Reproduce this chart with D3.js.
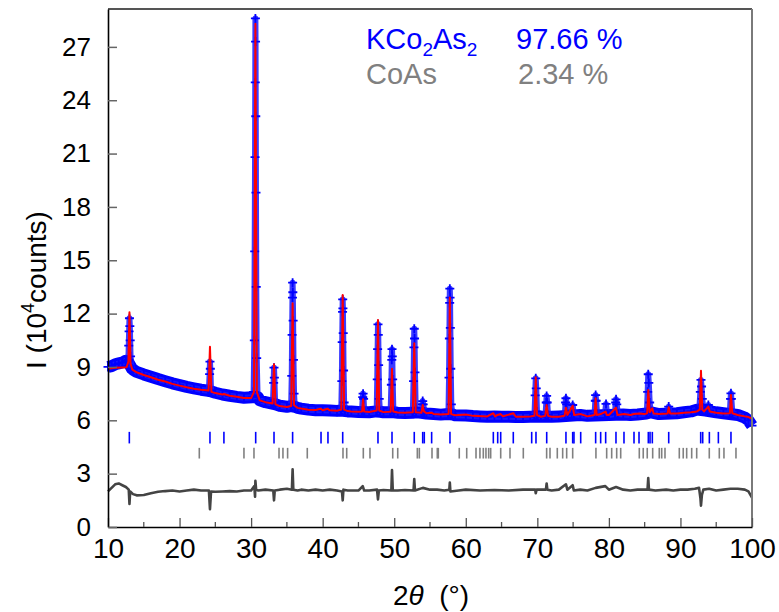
<!DOCTYPE html>
<html>
<head>
<meta charset="utf-8">
<script src="https://cdn.jsdelivr.net/npm/d3@7"></script>
<style>
  body { margin: 0; background: #fff; }
  text { font-family: "Liberation Sans", Arial, sans-serif; }
</style>
</head>
<body>
<div id="chart"></div>
<script>
// observed intensity (10^4 counts) vs 2theta, read off the picture
// background part of the observed pattern
const obsBase = [
  [10, 9.0], [10.5, 9.05], [11, 9.15], [11.5, 9.2], [12, 9.25], [12.5, 9.35], [12.8, 9.3],
  [13.35, 8.9], [13.5, 8.85], [14, 8.72], [15, 8.58], [16, 8.45], [17, 8.32], [18, 8.2], [19, 8.08], [20, 7.98],
  [21, 7.88], [22, 7.8], [23, 7.72], [24, 7.66], [24.45, 7.62],
  [25, 7.55], [26, 7.45], [27, 7.38], [28, 7.32], [29, 7.27], [30.2, 7.3], [30.95, 7.3],
  [31.2, 7.12], [32, 7.02], [32.8, 6.95], [33.4, 6.9],
  [34, 6.82], [35, 6.76], [35.55, 6.8], [36.15, 6.75],
  [36.5, 6.7], [37, 6.66], [38, 6.6], [39, 6.57], [40, 6.56], [41, 6.55], [42, 6.53], [42.55, 6.55],
  [43.15, 6.52], [43.5, 6.5], [44, 6.49], [45, 6.47],
  [46.5, 6.45], [47.5, 6.5], [48.05, 6.48],
  [48.5, 6.45], [49.45, 6.45], [49.95, 6.45],
  [50.5, 6.43], [51.5, 6.41], [52.55, 6.42], [53.05, 6.45],
  [53.8, 6.42], [54.5, 6.38], [55.5, 6.35], [56.5, 6.32], [57.55, 6.35], [58.15, 6.33],
  [58.5, 6.28], [60, 6.27], [61, 6.24], [62, 6.22], [63, 6.2], [64, 6.22], [65, 6.2], [66, 6.2],
  [67, 6.18], [68, 6.18], [69, 6.2], [70.5, 6.2], [72, 6.2], [73, 6.22],
  [76, 6.3], [77, 6.25], [80, 6.3], [82, 6.32], [83, 6.3], [84, 6.33], [85.25, 6.38], [85.9, 6.45],
  [87, 6.35], [89.5, 6.4], [90.5, 6.45], [91.5, 6.5], [92.3, 6.6], [93.5, 6.55],
  [95, 6.45], [96, 6.4], [98, 6.3], [99, 6.15], [99.5, 6.0], [100, 5.7]
];

// Bragg peaks of the observed pattern
const obsPeak = [
  [12.85, 9.4], [12.9, 10.2], [12.95, 11.0], [13.0, 11.74], [13.05, 11.3], [13.1, 10.5], [13.15, 9.6], [13.3, 8.9],
  [24.1, 7.7], [24.2, 8.6], [24.25, 9.3], [24.3, 8.9], [24.4, 7.7],
  [30.35, 7.6], [30.45, 10.5], [30.5, 15.5], [30.55, 20.8], [30.58, 25.0], [30.6, 28.6], [30.62, 27.3],
  [30.65, 23.1], [30.68, 18.8], [30.72, 13.5], [30.78, 9.5], [30.9, 7.4],
  [33.05, 7.0], [33.15, 8.1], [33.2, 8.96], [33.25, 8.4], [33.35, 7.0],
  [35.6, 6.9], [35.68, 8.5], [35.73, 10.8], [35.78, 12.9], [35.8, 13.74], [35.83, 13.2], [35.87, 11.6],
  [35.92, 9.4], [36.0, 7.5], [36.1, 6.8],
  [42.6, 6.6], [42.68, 8.2], [42.73, 10.4], [42.78, 12.1], [42.8, 12.8], [42.83, 12.3], [42.87, 10.9],
  [42.92, 8.8], [43.0, 7.0], [43.1, 6.55],
  [45.5, 6.5], [45.6, 7.3], [45.65, 7.5], [45.72, 7.2], [45.8, 6.5],
  [47.55, 6.55], [47.63, 8.3], [47.68, 10.0], [47.73, 11.4], [47.77, 10.8], [47.82, 9.1], [47.9, 7.2], [48.0, 6.5],
  [49.5, 6.5], [49.6, 8.0], [49.66, 9.4], [49.69, 10.0], [49.73, 9.6], [49.78, 8.3], [49.88, 6.6],
  [52.6, 6.45], [52.7, 8.2], [52.76, 10.1], [52.8, 11.15], [52.84, 10.6], [52.9, 8.7], [53.0, 6.7],
  [53.85, 6.45], [53.93, 6.9], [53.98, 7.08], [54.05, 6.9], [54.2, 6.5],
  [57.58, 6.4], [57.66, 8.4], [57.71, 10.6], [57.75, 12.6], [57.77, 13.4], [57.8, 12.9], [57.84, 11.2],
  [57.9, 8.9], [57.98, 6.9], [58.1, 6.35],
  [69.6, 6.3], [69.7, 7.4], [69.78, 8.36], [69.85, 7.8], [69.95, 6.5],
  [71.15, 6.3], [71.25, 7.0], [71.3, 7.37], [71.38, 7.0], [71.5, 6.3],
  [73.85, 6.3], [73.95, 7.0], [74.0, 7.24], [74.1, 6.9], [74.25, 6.35],
  [74.8, 6.35], [74.94, 6.86], [75.1, 6.35],
  [78.0, 6.35], [78.1, 7.1], [78.15, 7.42], [78.22, 7.1], [78.35, 6.35],
  [79.45, 6.35], [79.6, 6.92], [79.75, 6.35],
  [80.85, 6.35], [80.95, 7.0], [81.0, 7.18], [81.1, 6.9], [81.25, 6.35],
  [85.3, 6.4], [85.42, 7.6], [85.5, 8.59], [85.58, 8.1], [85.7, 7.0], [85.85, 6.5],
  [88.2, 6.4], [88.36, 6.77], [88.5, 6.4],
  [92.65, 6.7], [92.78, 7.6], [92.87, 8.27], [92.95, 7.9], [93.05, 7.2], [93.2, 6.7],
  [93.75, 6.55], [93.9, 6.86], [94.05, 6.55],
  [96.9, 6.4], [97.0, 7.2], [97.06, 7.52], [97.12, 7.2], [97.25, 6.4]
];

// calculated profile
const calcPts = [
  [10, 8.9], [11, 8.95], [12, 8.97], [12.6, 8.98], [12.85, 9.3], [13.0, 12.07], [13.15, 9.2], [13.4, 8.85],
  [14, 8.7], [15, 8.55], [16, 8.42], [17, 8.28], [18, 8.18], [19, 8.05], [20, 7.95], [21, 7.86],
  [22, 7.78], [23, 7.72], [24.05, 7.67], [24.25, 10.14], [24.45, 7.6], [25, 7.53], [26, 7.45],
  [26.2, 7.48], [27, 7.38], [28, 7.32], [29, 7.26], [30.0, 7.25], [30.4, 7.6], [30.6, 28.3],
  [30.8, 7.6], [31.2, 7.12], [32, 7.02], [33.0, 6.95], [33.2, 9.15], [33.4, 6.9], [34, 6.8],
  [35, 6.75], [35.6, 6.8], [35.8, 12.58], [36.0, 6.85], [36.5, 6.7], [37, 6.66], [38, 6.6],
  [39, 6.58], [39.75, 6.65], [40, 6.57], [40.7, 6.65], [41, 6.56], [42, 6.54], [42.6, 6.6],
  [42.8, 13.05], [43.0, 6.6], [43.5, 6.52], [44, 6.5], [45, 6.48], [45.5, 6.5], [45.65, 7.18],
  [45.8, 6.5], [46.5, 6.47], [47.55, 6.55], [47.73, 11.64], [47.9, 6.55], [48.5, 6.46],
  [49.5, 6.48], [49.69, 8.9], [49.85, 6.5], [50.5, 6.44], [51.5, 6.42], [52.6, 6.45],
  [52.8, 10.33], [53.0, 6.45], [53.8, 6.42], [53.98, 6.86], [54.15, 6.5], [54.5, 6.4],
  [55.2, 6.43], [55.5, 6.36], [56.5, 6.33], [57.6, 6.35], [57.77, 12.9], [57.95, 6.35],
  [58.5, 6.28], [60.1, 6.32], [61, 6.25], [63, 6.22], [63.85, 6.4], [64.1, 6.22], [64.46, 6.3],
  [64.88, 6.35], [65.2, 6.22], [66.64, 6.4], [67, 6.2], [68, 6.2], [69.0, 6.22], [69.6, 6.25],
  [69.78, 8.42], [69.95, 6.3], [70.5, 6.2], [71.1, 6.25], [71.3, 6.86], [71.5, 6.25], [72, 6.2],
  [73, 6.2], [73.8, 6.25], [74.0, 6.71], [74.2, 6.3], [74.94, 6.82], [75.15, 6.3], [76.06, 6.35],
  [77, 6.22], [78.0, 6.3], [78.15, 7.24], [78.3, 6.3], [78.85, 6.35], [79.55, 6.49], [79.7, 6.3],
  [80.0, 6.3], [80.99, 6.71], [81.2, 6.3], [82.11, 6.35], [83, 6.3], [83.51, 6.35], [84.21, 6.38],
  [85.0, 6.35], [85.35, 6.4], [85.51, 7.7], [85.7, 6.45], [86.07, 6.67], [86.25, 6.38], [87, 6.35],
  [88.2, 6.38], [88.36, 6.73], [88.55, 6.38], [89.5, 6.38], [90.5, 6.42], [91.5, 6.45], [92.3, 6.5],
  [92.7, 6.6], [92.87, 8.79], [93.05, 6.6], [93.3, 6.5], [93.9, 6.77], [94.1, 6.5], [95.0, 6.42],
  [96, 6.38], [96.9, 6.4], [97.06, 7.42], [97.25, 6.4], [98, 6.3], [99, 6.22], [99.5, 6.18], [100, 6.1]
];

// difference curve (obs - calc, offset)
const diffPts = [
  [10, 2.0], [10.5, 2.2], [11, 2.4], [11.5, 2.45], [12, 2.35], [12.5, 2.25], [12.9, 2.1], [13.0, 1.3],
  [13.1, 2.0], [13.5, 1.85], [14, 1.78], [15, 1.8], [16, 1.9], [17, 1.98], [18, 2.02], [19, 2.05],
  [20, 2.0], [21, 2.05], [22, 2.1], [23, 2.05], [24.1, 2.05], [24.25, 1.0], [24.4, 2.0], [25, 1.98],
  [26, 2.0], [27, 2.02], [28, 2.0], [29, 2.05], [30.0, 2.05], [30.45, 2.3], [30.55, 1.7], [30.6, 2.6],
  [30.7, 2.1], [31, 2.05], [32, 2.1], [33.1, 2.05], [33.2, 1.5], [33.3, 2.05], [34, 2.1], [35, 2.15],
  [35.7, 2.1], [35.8, 3.25], [35.9, 2.1], [36.5, 2.05], [37, 2.1], [38, 2.05], [39, 2.1], [40, 2.05],
  [41, 2.1], [42, 2.05], [42.7, 2.0], [42.8, 1.5], [42.9, 2.1], [43.5, 2.05], [44, 2.05], [45, 2.05],
  [45.6, 2.3], [45.8, 2.05], [46.5, 2.05], [47.6, 2.1], [47.73, 1.55], [47.85, 2.05], [48.5, 2.08],
  [49.6, 2.05], [49.69, 3.2], [49.8, 2.05], [50.5, 2.05], [51.5, 2.08], [52.7, 2.05], [52.8, 2.7],
  [52.9, 2.05], [54, 2.2], [55, 2.1], [56, 2.1], [57, 2.05], [57.7, 2.1], [57.77, 2.5], [57.85, 2.0],
  [59, 2.05], [60, 2.1], [62, 2.05], [64, 2.08], [66, 2.05], [68, 2.1], [69.7, 2.1], [69.78, 1.9],
  [69.9, 2.1], [71.2, 2.1], [71.3, 2.45], [71.4, 2.1], [72, 2.05], [73, 2.1], [74.0, 2.4], [74.2, 2.1],
  [74.94, 2.35], [75.1, 2.05], [76, 2.1], [77, 2.05], [78.15, 2.2], [79.5, 2.3], [80, 2.1], [81, 2.25],
  [82, 2.1], [83, 2.05], [84, 2.1], [85.4, 2.1], [85.5, 2.75], [85.6, 2.1], [86.5, 2.05], [88, 2.1],
  [89, 2.05], [90, 2.1], [91, 2.1], [92, 2.15], [92.6, 2.2], [92.8, 1.6], [92.87, 1.2], [93.0, 1.8],
  [93.2, 2.1], [94, 2.15], [95, 2.05], [96, 2.1], [97, 2.15], [98, 2.15], [99, 2.1], [99.5, 2.0], [100, 1.65]
];

// Bragg reflection positions
const kcoTicks = [12.98, 24.25, 26.2, 30.64, 33.2, 35.8, 39.77, 40.74, 42.8, 47.73, 49.69, 52.8, 53.98, 54.2,
  55.23, 57.79, 63.85, 64.46, 64.88, 66.64, 69.21, 69.81, 71.31, 74.0, 74.94, 75.12, 76.06, 78.15, 78.85,
  79.55, 80.99, 82.11, 83.51, 84.21, 85.51, 85.75, 86.07, 88.36, 92.83, 93.11, 94.04, 95.3, 97.06];
const coasTicks = [22.76, 29.0, 30.4, 33.9, 34.45, 35.1, 37.85, 42.84, 43.36, 45.68, 46.61, 49.79, 50.49,
  53.23, 53.51, 55.28, 56.02, 56.16, 59.09, 60.13, 61.43, 61.98, 62.45, 62.82, 63.2, 63.48, 64.88, 66.18,
  68.04, 71.3, 71.77, 72.79, 73.54, 74.1, 74.94, 78.19, 79.69, 80.39, 81.09, 81.65, 84.25, 84.8, 85.36,
  86.12, 87.04, 87.38, 87.84, 89.84, 90.39, 90.87, 91.57, 92.27, 94.03, 95.43, 96.08, 97.76];

const xTicks = [10, 20, 30, 40, 50, 60, 70, 80, 90, 100];
const xMinor = [15, 25, 35, 45, 55, 65, 75, 85, 95];
const yTicks = [0, 3, 6, 9, 12, 15, 18, 21, 24, 27];

const phases = ["KCo", "CoAs"];
const fractions = ["97.66 %", "2.34 %"];

const margin = {top: 9, right: 27, bottom: 85, left: 108},
  width = 779 - margin.left - margin.right,
  height = 612 - margin.top - margin.bottom;

const svg = d3.select("#chart")
  .append("svg")
  .attr("width", 779)
  .attr("height", 612)
  .append("g")
  .attr("transform", `translate(${margin.left},${margin.top})`);

const x = d3.scaleLinear([10, 100], [0, width]);
const y = d3.scaleLinear([0, 29.13], [height, 0]);

// reflection markers
svg.append("g")
  .selectAll("line")
  .data(kcoTicks)
  .join("line")
    .attr("x1", d => x(d)).attr("x2", d => x(d))
    .attr("y1", y(5.35)).attr("y2", y(4.7))
    .attr("stroke", "#0000ff").attr("stroke-width", 1.6);

svg.append("g")
  .selectAll("line")
  .data(coasTicks)
  .join("line")
    .attr("x1", d => x(d)).attr("x2", d => x(d))
    .attr("y1", y(4.45)).attr("y2", y(3.85))
    .attr("stroke", "#808080").attr("stroke-width", 1.6);

const line = d3.line().x(d => x(d[0])).y(d => y(d[1]));

// difference
svg.append("path")
  .datum(diffPts)
  .attr("fill", "none")
  .attr("stroke", "#444")
  .attr("stroke-width", 2.6)
  .attr("stroke-linejoin", "round")
  .attr("d", line);

// observed: dense crosses merge into a band along the background
svg.append("path")
  .datum(obsBase)
  .attr("fill", "none")
  .attr("stroke", "#0000ff")
  .attr("stroke-width", 12)
  .attr("stroke-linejoin", "round")
  .attr("d", line);

const obsAll = d3.sort(obsBase.concat(obsPeak), d => d[0]);

svg.append("path")
  .datum(obsAll)
  .attr("fill", "none")
  .attr("stroke", "#1a1aff")
  .attr("stroke-opacity", 0.85)
  .attr("stroke-width", 6)
  .attr("stroke-linejoin", "round")
  .attr("d", line);

svg.append("g")
  .selectAll("path")
  .data(obsAll)
  .join("path")
    .attr("d", d => `M${x(d[0]) - 4.5},${y(d[1])}h9M${x(d[0])},${y(d[1]) - 4.5}v9`)
    .attr("stroke", "#0000ff")
    .attr("stroke-width", 1.8);

// calculated
svg.append("path")
  .datum(calcPts)
  .attr("fill", "none")
  .attr("stroke", "#ff0000")
  .attr("stroke-width", 2)
  .attr("stroke-linejoin", "round")
  .attr("d", line);

// frame top/right
svg.append("line")
  .attr("x1", 0).attr("x2", width).attr("y1", 0).attr("y2", 0)
  .attr("stroke", "#555").attr("stroke-width", 2);
svg.append("line")
  .attr("x1", width).attr("x2", width).attr("y1", 0).attr("y2", height)
  .attr("stroke", "#7a7a7a").attr("stroke-width", 2);

// axes, ticks pointing inward
const xAxis = svg.append("g")
  .attr("transform", `translate(0,${height})`)
  .call(d3.axisBottom(x).tickValues(xTicks).tickSize(-9).tickPadding(11).tickSizeOuter(0));
xAxis.selectAll(".tick line").attr("stroke", "#555").attr("stroke-width", 1.3);
xAxis.select(".domain").attr("stroke", "#000").attr("stroke-width", 1.6);
xAxis.selectAll("text").attr("font-size", 28).attr("fill", "#000");
xAxis.selectAll(".minor")
  .data(xMinor)
  .join("line")
    .attr("class", "minor")
    .attr("x1", d => x(d)).attr("x2", d => x(d))
    .attr("y1", 0).attr("y2", -5)
    .attr("stroke", "#555").attr("stroke-width", 1.3);

const yAxis = svg.append("g")
  .call(d3.axisLeft(y).tickValues(yTicks).tickSize(-9).tickPadding(17).tickSizeOuter(0));
yAxis.selectAll(".tick line").attr("stroke", "#666").attr("stroke-width", 1.5);
yAxis.select(".domain").attr("stroke", "#000").attr("stroke-width", 1.6);
yAxis.selectAll("text").attr("font-size", 26).attr("fill", "#000");

// axis titles
const xTitle = d3.select("svg").append("text")
  .attr("x", 431).attr("y", 605)
  .attr("text-anchor", "middle")
  .attr("font-size", 28);
xTitle.append("tspan").text("2");
xTitle.append("tspan").attr("font-style", "italic").text("θ");
xTitle.append("tspan").text("  (°)").attr("xml:space", "preserve");

const yTitle = d3.select("svg").append("text")
  .attr("transform", "translate(46,290) rotate(-90)")
  .attr("text-anchor", "middle")
  .attr("font-size", 28);
yTitle.append("tspan").text("I (10");
yTitle.append("tspan").attr("font-size", 18).attr("dy", -12).text("4");
yTitle.append("tspan").attr("dy", 12).text("counts)");

// phase fractions
const leg1 = d3.select("svg").append("text")
  .attr("x", 366).attr("y", 49)
  .attr("font-size", 29)
  .attr("fill", "#0000ff");
leg1.append("tspan").text(phases[0]);
leg1.append("tspan").attr("font-size", 19).attr("dy", 7).text("2");
leg1.append("tspan").attr("dy", -7).text("As");
leg1.append("tspan").attr("font-size", 19).attr("dy", 7).text("2");

d3.select("svg").append("text")
  .attr("x", 516).attr("y", 49)
  .attr("font-size", 29)
  .attr("fill", "#0000ff")
  .text(fractions[0]);

d3.select("svg").append("text")
  .attr("x", 366).attr("y", 84)
  .attr("font-size", 29)
  .attr("fill", "#808080")
  .text(phases[1]);

d3.select("svg").append("text")
  .attr("x", 518).attr("y", 84)
  .attr("font-size", 29)
  .attr("fill", "#808080")
  .text(fractions[1]);
</script>
</body>
</html>
